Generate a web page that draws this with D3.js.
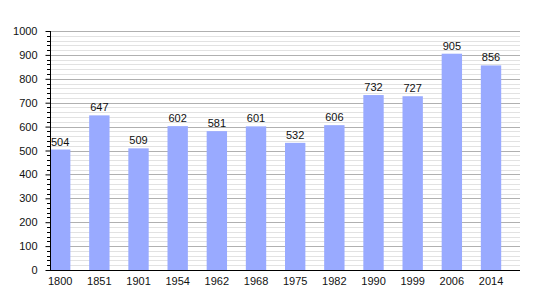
<!DOCTYPE html>
<html>
<head>
<meta charset="utf-8">
<script src="https://cdn.jsdelivr.net/npm/d3@7"></script>
<style>
  body { margin: 0; background: #fff; }
  text { font-family: "Liberation Sans", Arial, sans-serif; }
</style>
</head>
<body>
<script>
var years = ["1800", "1851", "1901", "1954", "1962", "1968", "1975", "1982", "1990", "1999", "2006", "2014"];
var population = [504, 647, 509, 602, 581, 601, 532, 606, 732, 727, 905, 856];
var majorTicks = [0, 100, 200, 300, 400, 500, 600, 700, 800, 900, 1000];

var width = 550,
    height = 300;
var plotLeft = 50, plotRight = 520, plotTop = 31, plotBottom = 270;

var svg = d3.select("body").append("svg")
    .attr("width", width)
    .attr("height", height);

var x = d3.scaleBand().domain(years).range([plotLeft, plotRight]);
var y = d3.scaleLinear().domain([0, 1000]).range([plotBottom, plotTop]);
var barW = x.step() * 0.52;

// minor grid every 20
var minor = d3.range(0, 1001, 20).filter(function(d) { return d % 100 != 0; });
svg.append("g").selectAll("line")
    .data(minor)
    .enter().append("line")
    .attr("x1", plotLeft).attr("x2", plotRight)
    .attr("y1", function(d) { return Math.round(y(d)) + 0.5; })
    .attr("y2", function(d) { return Math.round(y(d)) + 0.5; })
    .attr("stroke", "#e2e2e2");

// major grid
svg.append("g").selectAll("line")
    .data(majorTicks)
    .enter().append("line")
    .attr("x1", plotLeft).attr("x2", plotRight)
    .attr("y1", function(d) { return Math.round(y(d)) + 0.5; })
    .attr("y2", function(d) { return Math.round(y(d)) + 0.5; })
    .attr("stroke", "#b0b0b0");

// bars
svg.append("g").selectAll("rect")
    .data(population)
    .enter().append("rect")
    .attr("x", function(d, i) { return x(years[i]); })
    .attr("y", function(d) { return y(d); })
    .attr("width", barW)
    .attr("height", function(d) { return plotBottom - y(d); })
    .attr("fill", "#99aaff");

// value labels
svg.append("g").selectAll("text")
    .data(population)
    .enter().append("text")
    .attr("x", function(d, i) { return x(years[i]) + barW / 2; })
    .attr("y", function(d) { return y(d) - 4; })
    .attr("text-anchor", "middle")
    .attr("font-size", 11)
    .attr("fill", "#111")
    .text(function(d) { return d; });

// y axis
var yAxis = svg.append("g")
    .attr("transform", "translate(" + (plotLeft + 0.5) + ",0)")
    .call(d3.axisLeft(y).tickValues(majorTicks).tickSize(5).tickPadding(8).tickFormat(d3.format("d")));
yAxis.select(".domain").remove();
yAxis.selectAll("text").attr("font-size", 11).attr("font-family", "Liberation Sans, Arial, sans-serif").attr("fill", "#111");
yAxis.selectAll("line").attr("stroke", "#000");

svg.append("g").selectAll("line")
    .data(minor)
    .enter().append("line")
    .attr("x1", plotLeft - 3).attr("x2", plotLeft)
    .attr("y1", function(d) { return Math.round(y(d)) + 0.5; })
    .attr("y2", function(d) { return Math.round(y(d)) + 0.5; })
    .attr("stroke", "#000");

svg.append("line")
    .attr("x1", plotLeft + 0.5).attr("x2", plotLeft + 0.5)
    .attr("y1", plotTop).attr("y2", plotBottom)
    .attr("stroke", "#000");

// x axis
var xAxis = svg.append("g")
    .attr("transform", "translate(0," + (plotBottom + 0.5) + ")")
    .call(d3.axisBottom(x).tickSize(0).tickPadding(7));
xAxis.select(".domain").attr("stroke", "#000").attr("d", "M" + plotLeft + ",0H" + plotRight);
xAxis.selectAll(".tick").attr("transform", function(d) { return "translate(" + (x(d) + barW / 2) + ",0)"; });
xAxis.selectAll("text").attr("font-size", 11).attr("font-family", "Liberation Sans, Arial, sans-serif").attr("fill", "#111");
</script>
</body>
</html>
